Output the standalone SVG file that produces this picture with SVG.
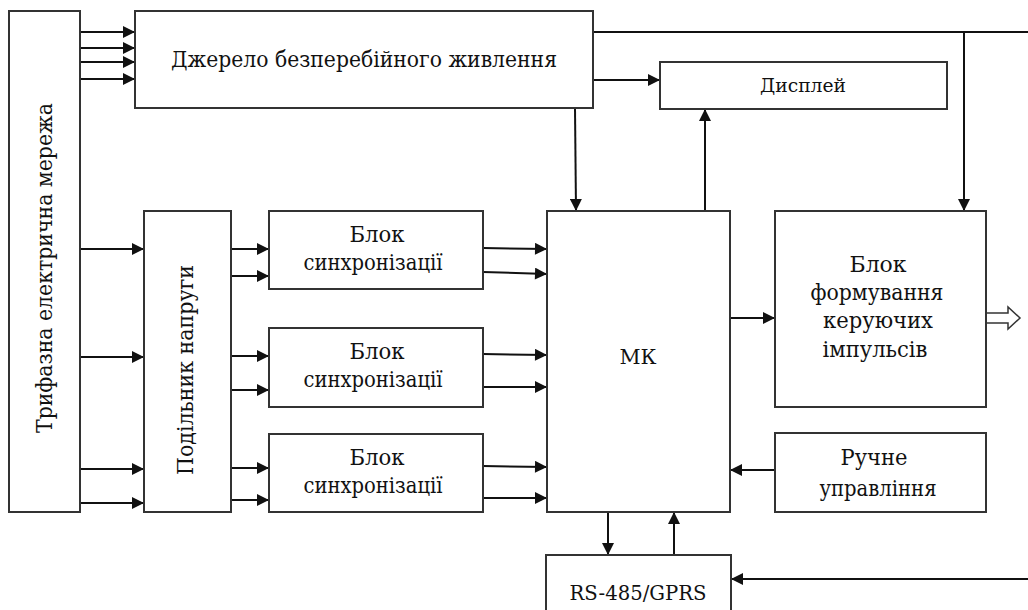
<svg xmlns="http://www.w3.org/2000/svg" width="1028" height="610" viewBox="0 0 1028 610">
<style>
.box{fill:#fff;stroke:#333;stroke-width:2}
.ln{fill:none;stroke:#111;stroke-width:2}
.t{fill:#111;font-size:22px;text-anchor:middle}
</style>
<defs>
<marker id="ah" viewBox="0 0 10 10" refX="10" refY="5" markerWidth="13" markerHeight="12" markerUnits="userSpaceOnUse" orient="auto">
<path d="M0,0 L10,5 L0,10 z" fill="#111"/>
</marker>
</defs>
<rect width="1028" height="610" fill="#fff"/>
<g id="connectors">
<line class="ln" x1="80" y1="32" x2="135" y2="32" marker-end="url(#ah)"/>
<line class="ln" x1="80" y1="48" x2="135" y2="48" marker-end="url(#ah)"/>
<line class="ln" x1="80" y1="62" x2="135" y2="62" marker-end="url(#ah)"/>
<line class="ln" x1="80" y1="79" x2="135" y2="79" marker-end="url(#ah)"/>
<polyline class="ln" points="593,32 1028,32"/>
<line class="ln" x1="964" y1="32" x2="964" y2="211" marker-end="url(#ah)"/>
<line class="ln" x1="593" y1="80" x2="660" y2="80" marker-end="url(#ah)"/>
<line class="ln" x1="575" y1="108" x2="576" y2="211" marker-end="url(#ah)"/>
<line class="ln" x1="705" y1="211" x2="705" y2="109" marker-end="url(#ah)"/>
<line class="ln" x1="80" y1="249" x2="144" y2="249" marker-end="url(#ah)"/>
<line class="ln" x1="80" y1="357" x2="144" y2="357" marker-end="url(#ah)"/>
<line class="ln" x1="80" y1="469" x2="144" y2="469" marker-end="url(#ah)"/>
<line class="ln" x1="80" y1="503" x2="144" y2="503" marker-end="url(#ah)"/>
<line class="ln" x1="231" y1="249" x2="269" y2="249" marker-end="url(#ah)"/>
<line class="ln" x1="231" y1="276" x2="269" y2="276" marker-end="url(#ah)"/>
<line class="ln" x1="231" y1="356" x2="269" y2="356" marker-end="url(#ah)"/>
<line class="ln" x1="231" y1="390" x2="269" y2="390" marker-end="url(#ah)"/>
<line class="ln" x1="231" y1="468" x2="269" y2="468" marker-end="url(#ah)"/>
<line class="ln" x1="231" y1="500" x2="269" y2="500" marker-end="url(#ah)"/>
<line class="ln" x1="483" y1="248" x2="547" y2="249" marker-end="url(#ah)"/>
<line class="ln" x1="483" y1="272" x2="547" y2="274" marker-end="url(#ah)"/>
<line class="ln" x1="483" y1="354" x2="547" y2="355" marker-end="url(#ah)"/>
<line class="ln" x1="483" y1="387" x2="547" y2="387" marker-end="url(#ah)"/>
<line class="ln" x1="483" y1="466" x2="547" y2="467" marker-end="url(#ah)"/>
<line class="ln" x1="483" y1="498" x2="547" y2="498" marker-end="url(#ah)"/>
<line class="ln" x1="730" y1="318" x2="775" y2="318" marker-end="url(#ah)"/>
<line class="ln" x1="775" y1="470" x2="730" y2="470" marker-end="url(#ah)"/>
<line class="ln" x1="608" y1="512" x2="608" y2="555" marker-end="url(#ah)"/>
<line class="ln" x1="674" y1="555" x2="674" y2="512" marker-end="url(#ah)"/>
<line class="ln" x1="1028" y1="579" x2="731" y2="579" marker-end="url(#ah)"/>
<path d="M986,313 H1008 V307 L1020,318 L1008,329 V323 H986" fill="#fff" stroke="#333" stroke-width="1.5"/>
</g>
<g font-family="'DejaVu Serif Condensed', 'DejaVu Serif', serif" font-stretch="condensed">
<g id="mains">
<rect class="box" x="9" y="11" width="71" height="501"/>
<text class="t" transform="translate(52,268) rotate(-90)" textLength="330" lengthAdjust="spacingAndGlyphs">Трифазна електрична мережа</text>
</g>
<g id="ups">
<rect class="box" x="135" y="11" width="458" height="97"/>
<text class="t" x="364" y="67" textLength="386" lengthAdjust="spacingAndGlyphs">Джерело безперебійного живлення</text>
</g>
<g id="display">
<rect class="box" x="660" y="62" width="287" height="47"/>
<text class="t" x="803" y="92" style="font-size:18px" textLength="86" lengthAdjust="spacingAndGlyphs">Дисплей</text>
</g>
<g id="divider">
<rect class="box" x="144" y="211" width="87" height="301"/>
<text class="t" transform="translate(193,370) rotate(-90)" textLength="210" lengthAdjust="spacingAndGlyphs">Подільник напруги</text>
</g>
<g id="sync1">
<rect class="box" x="269" y="211" width="214" height="78"/>
<text class="t" x="377" y="242" textLength="55" lengthAdjust="spacingAndGlyphs">Блок</text>
<text class="t" x="373" y="270" textLength="139" lengthAdjust="spacingAndGlyphs">синхронізації</text>
</g>
<g id="sync2">
<rect class="box" x="269" y="328" width="214" height="79"/>
<text class="t" x="377" y="359" textLength="55" lengthAdjust="spacingAndGlyphs">Блок</text>
<text class="t" x="373" y="387" textLength="139" lengthAdjust="spacingAndGlyphs">синхронізації</text>
</g>
<g id="sync3">
<rect class="box" x="269" y="434" width="214" height="78"/>
<text class="t" x="377" y="465" textLength="55" lengthAdjust="spacingAndGlyphs">Блок</text>
<text class="t" x="373" y="493" textLength="139" lengthAdjust="spacingAndGlyphs">синхронізації</text>
</g>
<g id="mk">
<rect class="box" x="547" y="211" width="183" height="301"/>
<text class="t" x="638" y="364" style="font-size:20px" textLength="37" lengthAdjust="spacingAndGlyphs">МК</text>
</g>
<g id="pulse">
<rect class="box" x="775" y="211" width="211" height="196"/>
<text class="t" x="878" y="272" textLength="57" lengthAdjust="spacingAndGlyphs">Блок</text>
<text class="t" x="877" y="300" textLength="133" lengthAdjust="spacingAndGlyphs">формування</text>
<text class="t" x="878" y="328" textLength="110" lengthAdjust="spacingAndGlyphs">керуючих</text>
<text class="t" x="875" y="357" textLength="105" lengthAdjust="spacingAndGlyphs">імпульсів</text>
</g>
<g id="manual">
<rect class="box" x="775" y="433" width="211" height="79"/>
<text class="t" x="874" y="465" textLength="67" lengthAdjust="spacingAndGlyphs">Ручне</text>
<text class="t" x="878" y="496" textLength="117" lengthAdjust="spacingAndGlyphs">управління</text>
</g>
<g id="rs">
<rect class="box" x="546" y="555" width="185" height="70"/>
<text class="t" x="638" y="600" style="font-size:21px" textLength="137" lengthAdjust="spacingAndGlyphs">RS-485/GPRS</text>
</g>
</g>
</svg>
